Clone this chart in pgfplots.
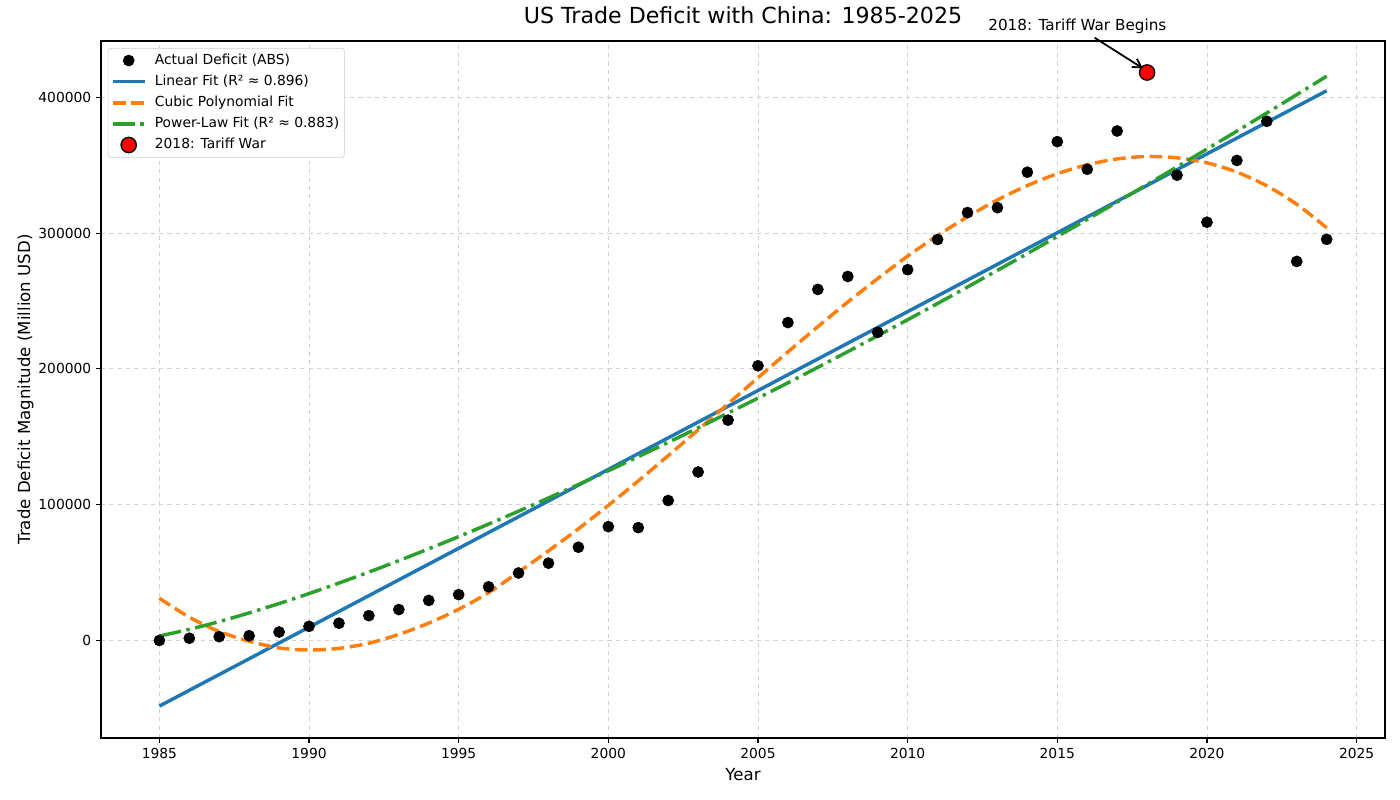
\documentclass[border=0pt]{standalone}
\usepackage{fontspec}
\setmainfont{DejaVu Sans}
\usepackage{pgfplots}
\pgfplotsset{compat=1.18}
\usetikzlibrary{arrows.meta}
\definecolor{tabblue}{HTML}{1F77B4}
\definecolor{taborange}{HTML}{FF7F0E}
\definecolor{tabgreen}{HTML}{2CA02C}
\definecolor{gridgray}{HTML}{D0D0D0}
\definecolor{legframe}{HTML}{CCCCCC}
\begin{document}
\begin{tikzpicture}
\begin{axis}[
  scale only axis, width=924.5bp, height=501.8bp,
  xmin=1983.05, xmax=2025.95, ymin=-71800, ymax=441400,
  xtick={1985,1990,...,2025},
  ytick={0,100000,200000,300000,400000},
  scaled ticks=false,
  /pgf/number format/assume math mode=true,
  xticklabel style={/pgf/number format/1000 sep={}},
  yticklabel style={/pgf/number format/1000 sep={}, /pgf/number format/fixed},
  tick align=outside, tick pos=left,
  major tick length=3.5pt,
  tick style={black, line width=0.8pt},
  axis line style={line width=0.8pt},
  grid=major, grid style={dashed, gridgray, line width=0.6pt},
  tick label style={font=\fontsize{10}{12}\selectfont},
  title={US Trade Deficit with China: 1985-2025},
  title style={at={(axis description cs:0.5,1.0129)}, anchor=base, font=\fontsize{16}{19}\selectfont},
  xlabel={Year},
  ylabel={Trade Deficit Magnitude (Million USD)},
  xlabel style={at={(axis description cs:0.5,-0.0612)}, anchor=base, font=\fontsize{12}{14}\selectfont},
  ylabel style={at={(axis description cs:-0.0552,0.5)}, anchor=base, rotate=0, font=\fontsize{12}{14}\selectfont},
  clip=false,
  legend image code/.code={\draw[mark repeat=2,mark phase=2,#1] plot coordinates {(0bp,0bp) (11.5bp,0bp) (23bp,0bp)};},
  legend cell align=left,
  legend style={at={(axis description cs:0,1)}, anchor=north west, xshift=5bp, yshift=-5bp,
    draw=legframe, rounded corners=2pt, fill=white,
    inner xsep=2bp, inner ysep=2bp, row sep=1.5bp,
    font=\fontsize{10}{12}\selectfont,
    /tikz/every odd column/.append style={column sep=4.5bp},
    nodes={inner sep=1.6bp, text height=8bp, text depth=2.5bp}},
]
% Actual deficit (million USD)
\addplot[only marks, mark=*, mark size=4bp, mark options={draw=black, fill=black}] coordinates {
(1985,6) (1986,1665) (1987,2796) (1988,3490) (1989,6235) (1990,10431) (1991,12691) (1992,18309)
(1993,22777) (1994,29505) (1995,33790) (1996,39520) (1997,49696) (1998,56927) (1999,68677)
(2000,83833) (2001,83096) (2002,103065) (2003,124068) (2004,162254) (2005,202278) (2006,234101)
(2007,258506) (2008,268040) (2009,226877) (2010,273042) (2011,295250) (2012,315102) (2013,318684)
(2014,344818) (2015,367328) (2016,346997) (2017,375168) (2018,418232) (2019,342630) (2020,307984)
(2021,353478) (2022,382289) (2023,279113) (2024,295402)};
\addlegendentry{Actual Deficit (ABS)}
% Linear fit
\addplot[tabblue, line width=2.5pt, no marks] coordinates {(1985,-48300) (2024,404800)};
\addlegendentry{Linear Fit (R² ≈ 0.896)}
% Cubic fit
\addplot[taborange, line width=2.5pt, no marks, smooth, dash pattern=on 9.25pt off 4pt] coordinates {
(1985,31100) (1986,17150) (1987,6600) (1988,-530) (1989,-5500) (1990,-7000) (1991,-5800)
(1992,-2000) (1993,4500) (1994,12800) (1995,23000) (1996,35200) (1997,50400) (1998,66000)
(1999,82240) (2000,99510) (2001,117500) (2002,136100) (2003,155100) (2004,174300) (2005,193500)
(2006,212500) (2007,231100) (2008,249200) (2009,266500) (2010,283000) (2011,298200) (2012,312000)
(2013,324400) (2014,335000) (2015,343700) (2016,350300) (2017,354600) (2018,356400) (2019,355400)
(2020,351700) (2021,344900) (2022,334800) (2023,321200) (2024,303900)};
\addlegendentry{Cubic Polynomial Fit}
% Power-law fit
\addplot[tabgreen, line width=2.5pt, no marks, smooth, dash pattern=on 16pt off 4pt on 2.5pt off 4pt] coordinates {
(1985,3300) (1986,8190) (1987,13930) (1988,20310) (1989,27210) (1990,34560) (1991,42300)
(1992,50380) (1993,58800) (1994,67500) (1995,76490) (1996,85720) (1997,95200) (1998,104930)
(1999,114860) (2000,125000) (2001,135350) (2002,145890) (2003,156580) (2004,167470) (2005,178500)
(2006,189750) (2007,201140) (2008,212690) (2009,224370) (2010,236200) (2011,248160) (2012,260300)
(2013,272550) (2014,284920) (2015,297500) (2016,310070) (2017,322840) (2018,335740) (2019,348740)
(2020,361900) (2021,375080) (2022,388440) (2023,401910) (2024,415500)};
\addlegendentry{Power-Law Fit (R² ≈ 0.883)}
% Tariff war point
\addplot[only marks, mark=*, mark size=5.5bp, mark options={draw=black, fill=red, line width=1pt}] coordinates {(2018,418232)};
\addlegendentry{2018: Tariff War}
% annotation
\node[font=\fontsize{11}{13}\selectfont, anchor=base, inner sep=0pt] at (axis cs:2015.67,448800) {2018: Tariff War Begins};
\draw[black, line width=1.3pt, -{Straight Barb[length=6bp,width=7bp]}] (axis cs:2016.25,443800) -- (axis cs:2017.86,421300);
\end{axis}
\pgfresetboundingbox
\useasboundingbox (-72.72bp,-44.64bp) rectangle (935.28bp,531.36bp);
\end{tikzpicture}
\end{document}
